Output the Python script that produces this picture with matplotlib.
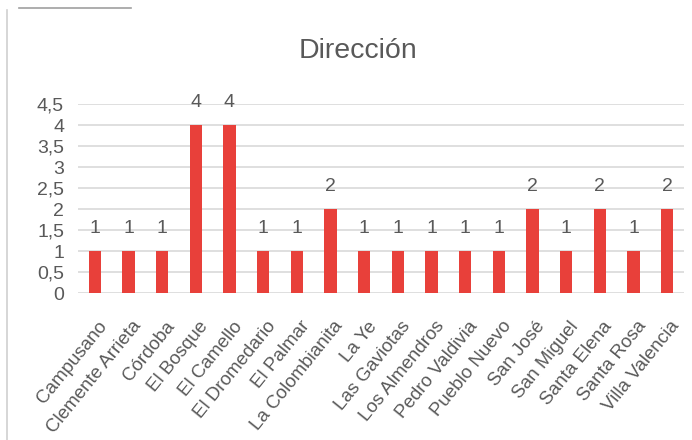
import matplotlib
matplotlib.use("Agg")
import matplotlib.pyplot as plt
from matplotlib.lines import Line2D
import matplotlib.transforms as mtransforms

categories = ["Campusano", "Clemente Arrieta", "Córdoba", "El Bosque", "El Camello",
              "El Dromedario", "El Palmar", "La Colombianita", "La Ye", "Las Gaviotas",
              "Los Almendros", "Pedro Valdivia", "Pueblo Nuevo", "San José", "San Miguel",
              "Santa Elena", "Santa Rosa", "Villa Valencia"]
values = [1, 1, 1, 4, 4, 1, 1, 2, 1, 1, 1, 1, 1, 2, 1, 2, 1, 2]
yticks = [0, 0.5, 1, 1.5, 2, 2.5, 3, 3.5, 4, 4.5]
ytick_labels = ["0", "0,5", "1", "1,5", "2", "2,5", "3", "3,5", "4", "4,5"]
title = "Dirección"

plt.rcParams['font.family'] = ["Liberation Sans", "DejaVu Sans"]

txt = "#595959"
red = "#E8403A"

fig = plt.figure(figsize=(6.92, 4.4), dpi=100)
ax = fig.add_axes([78/692, 1-293/440, (684-78)/692, (293-104)/440])
x = list(range(len(categories)))
ax.bar(x, values, width=0.36, color=red, zorder=3)
ax.set_xlim(-0.5, len(categories)-0.5)
ax.set_ylim(0, 4.5)
ax.set_yticks(yticks)
ax.set_yticklabels(ytick_labels, fontsize=14, color=txt)
ax.set_xticks(x)
ax.set_xticklabels(categories, rotation=51, ha="right", rotation_mode="anchor",
                   fontsize=13.5, color=txt)
ax.tick_params(axis="both", length=0)
ax.tick_params(axis="y", pad=10)
ax.tick_params(axis="x", pad=18)
offset = mtransforms.ScaledTranslation(3/100, 0, fig.dpi_scale_trans)
for lab in ax.get_xticklabels():
    lab.set_transform(lab.get_transform() + offset)
ax.grid(axis="y", color="#d9d9d9", linewidth=1.2, zorder=0)
for s in ax.spines.values():
    s.set_visible(False)
for xi, v in zip(x, values):
    ax.annotate(str(v), (xi, v), xytext=(0, 10), textcoords="offset points",
                ha="center", va="bottom", fontsize=14, color=txt)
fig.text(358/692, 1-51/440, title, ha="center", va="center", fontsize=20.5, color=txt)
fig.add_artist(Line2D([7/692, 7/692], [0, 1-10/440], color="#d0d0d0", linewidth=1.2))
fig.add_artist(Line2D([19/692, 131/692], [1-8/440, 1-8/440], color="#a0a0a0", linewidth=1.2))
fig.savefig("out.png", dpi=100)
